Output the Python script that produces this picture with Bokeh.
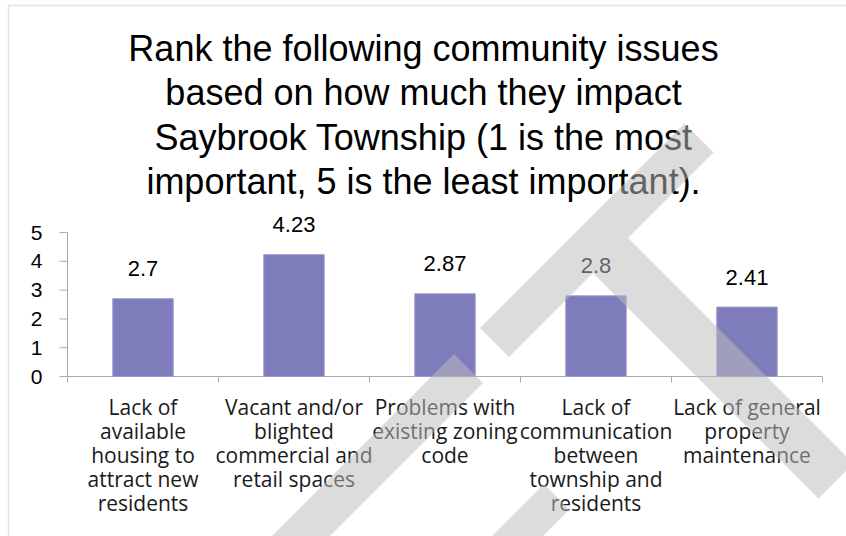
import math
from bokeh.plotting import figure
from bokeh.models import Range1d, ColumnDataSource, PolyAnnotation, Label
from bokeh.embed import file_html
from bokeh.resources import INLINE
from bokeh.core.properties import value

# Survey results: average rank of each issue (1 = most important, 5 = least)
issues = [
    "Lack of\navailable\nhousing to\nattract new\nresidents",
    "Vacant and/or\nblighted\ncommercial and\nretail spaces",
    "Problems with\nexisting zoning\ncode",
    "Lack of\ncommunication\nbetween\ntownship and\nresidents",
    "Lack of general\nproperty\nmaintenance",
]
avg_rank = [2.7, 4.23, 2.87, 2.8, 2.41]
y_ticks = [0, 1, 2, 3, 4, 5]
title_lines = [
    "Rank the following community issues",
    "based on how much they impact",
    "Saybrook Township (1 is the most",
    "important, 5 is the least important).",
]

BAR = "#7e7cbb"
AXIS_GREY = "#ababab"
NUM_FONT = "Liberation Sans"
CAT_FONT = "Open Sans"

n = len(issues)
slot_mid = [i + 0.5 for i in range(n)]        # centre of each category slot
slot_edge = [float(i) for i in range(n + 1)]  # boundaries between slots

src = ColumnDataSource(dict(
    x=slot_mid,
    rank=avg_rank,
    label=[f"{v:g}" for v in avg_rank],
    name=issues,
))

# The data area fills the whole canvas so the overlay and title can sit anywhere;
# the ranges put the value axis 67px from the left and the baseline 160px above the bottom.
W, H = 846, 536
PX_X = 151.0   # pixels per category slot
PX_Y = 28.8    # pixels per rank unit
x0_px, y0_px = 67, 376
p = figure(
    width=W, height=H,
    x_range=Range1d(-x0_px / PX_X, (W - x0_px) / PX_X),
    y_range=Range1d(-(H - y0_px) / PX_Y, y0_px / PX_Y),
    x_axis_location=None, y_axis_location=None,
    output_backend="svg", toolbar_location=None,
    min_border=0,
)
p.outline_line_color = None
p.xgrid.grid_line_color = None
p.ygrid.grid_line_color = None
p.background_fill_color = "white"
p.border_fill_color = "white"

# value axis: line, outward ticks and labels
p.segment(x0=[slot_edge[0]], y0=[y_ticks[0]], x1=[slot_edge[0]], y1=[y_ticks[-1]],
          line_color=AXIS_GREY, line_width=1)
p.ray(x=[slot_edge[0]] * len(y_ticks), y=y_ticks, length=8, length_units="screen",
      angle=math.pi, line_color=AXIS_GREY, line_width=1)
p.text(x=[slot_edge[0]] * len(y_ticks), y=y_ticks, text=[str(t) for t in y_ticks],
       x_offset=-25, text_align="right", text_baseline="middle",
       text_font=value(NUM_FONT), text_font_size="21px", text_color="black")

# category baseline with ticks at the slot boundaries
p.segment(x0=[slot_edge[0]], y0=[0], x1=[slot_edge[-1]], y1=[0],
          line_color=AXIS_GREY, line_width=1)
p.ray(x=slot_edge, y=[0] * len(slot_edge), length=6, length_units="screen",
      angle=-math.pi / 2, line_color=AXIS_GREY, line_width=1)

# category names under the baseline
p.text(x="x", y=0, text="name", source=src,
       y_offset=16, text_align="center", text_baseline="top",
       text_font=value(CAT_FONT), text_font_size="21px",
       text_line_height=0.86, text_color="#1a1a1a")

# bars and their value labels
p.vbar(x="x", top="rank", width=0.4, source=src,
       fill_color=BAR, line_color="#9a98cc", line_width=1)
p.text(x="x", y="rank", text="label", source=src,
       text_align="center", text_baseline="alphabetic", y_offset=-30,
       text_font=value(NUM_FONT), text_font_size="22px", text_color="black")

# chart title
for i, line in enumerate(title_lines):
    p.add_layout(Label(
        x=W / 2, y=48 + i * 44.3, x_units="canvas", y_units="canvas",
        text=line, text_align="center", text_baseline="alphabetic",
        text_font=NUM_FONT, text_font_size="36px", text_color="black",
    ))

# frame line around the chart area
p.add_layout(PolyAnnotation(
    xs=[8, 900, 900, 8], ys=[5, 5, 600, 600],
    xs_units="canvas", ys_units="canvas",
    fill_alpha=0, line_color="#a0a0a0", line_width=1.5, level="overlay",
))

# translucent grey diagonal stripes laid over the chart
stripes = [
    ([479.5, 508.5, 713, 684], [327.5, 356.5, 152, 123]),
    ([592.5, 627.5, 853, 818], [272.5, 237.5, 463, 498]),
    ([453.5, 482.5, 305, 247], [353.5, 382.5, 560, 560]),
    ([543.5, 569, 518, 467], [483.5, 509, 560, 560]),
]
for sx, sy in stripes:
    p.add_layout(PolyAnnotation(
        xs=sx, ys=sy, xs_units="canvas", ys_units="canvas",
        fill_color="#bbbbbb", fill_alpha=0.52, line_color=None, level="overlay",
    ))

open("out.html", "w").write(file_html(p, INLINE))
